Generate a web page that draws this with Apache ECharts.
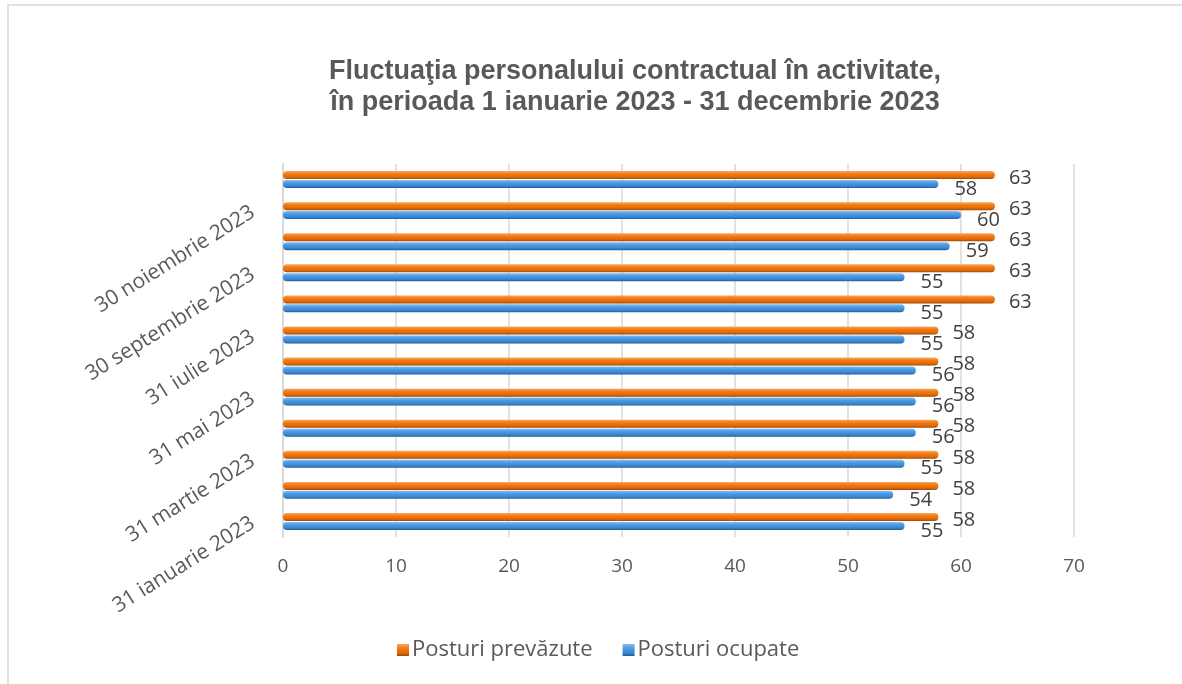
<!DOCTYPE html>
<html>
<head>
<meta charset="utf-8">
<script src="https://cdn.jsdelivr.net/npm/echarts@6/dist/echarts.min.js"></script>
<style>
html,body{margin:0;padding:0;background:#fff;}
#main{width:1182px;height:684px;}
</style>
</head>
<body>
<div id="main"></div>
<script>
const categories = [
  '31 ianuarie 2023','28 februarie 2023','31 martie 2023','30 aprilie 2023',
  '31 mai 2023','30 iunie 2023','31 iulie 2023','31 august 2023',
  '30 septembrie 2023','31 octombrie 2023','30 noiembrie 2023','31 decembrie 2023'
];
const posturiPrevazute = [58,58,58,58,58,58,58,63,63,63,63,63];
const posturiOcupate   = [55,54,55,56,56,56,55,55,55,59,60,58];
const xTicks = [0,10,20,30,40,50,60,70];

const chart = echarts.init(document.getElementById('main'));
const orangeGrad = new echarts.graphic.LinearGradient(0,0,0,1,[
  {offset:0,color:'#F7A863'},{offset:0.35,color:'#F47B12'},{offset:0.75,color:'#E06A0A'},{offset:1,color:'#9E4805'}]);
const blueGrad = new echarts.graphic.LinearGradient(0,0,0,1,[
  {offset:0,color:'#86BEF0'},{offset:0.35,color:'#4A9BE6'},{offset:0.75,color:'#3A86D0'},{offset:1,color:'#225A94'}]);
const sans = 'Open Sans';

chart.setOption({
  animation:false,
  backgroundColor:'#fff',
  graphic:[{type:'rect',shape:{x:8,y:5,width:1200,height:700},style:{fill:'none',stroke:'#D9D9D9',lineWidth:1.5},silent:true}],
  title:{
    text:'Fluctuaţia personalului contractual în activitate,\nîn perioada 1 ianuarie 2023 - 31 decembrie 2023',
    left:630, top:51, textAlign:'center',
    textStyle:{fontFamily:'Liberation Sans',fontWeight:'bold',fontSize:27,color:'#595959',lineHeight:31}
  },
  legend:{
    data:['Posturi prevăzute','Posturi ocupate'],
    bottom:18, left:392, itemWidth:12, itemHeight:12, itemGap:30, itemStyle:{borderWidth:0},
    icon:'rect',
    textStyle:{fontFamily:sans,fontSize:22,color:'#595959',padding:[0,0,0,-2]}
  },
  grid:{left:283,right:108,top:164,bottom:147,containLabel:false},
  xAxis:{
    type:'value',min:0,max:70,interval:10,
    axisLine:{show:false},axisTick:{show:false},
    splitLine:{lineStyle:{color:'#D9D9D9',width:1.5}},
    axisLabel:{margin:20,fontFamily:sans,fontSize:19,color:'#595959',
      formatter:v=>xTicks.includes(v)?String(v):''}
  },
  yAxis:{
    type:'category',data:categories,
    axisLine:{show:true,lineStyle:{color:'#D9D9D9',width:2}},
    axisTick:{show:false},
    axisLabel:{interval:1,rotate:32,margin:30,fontFamily:sans,fontSize:21,color:'#595959'}
  },
  series:[
    {name:'Posturi prevăzute',type:'bar',data:posturiPrevazute,barWidth:8,barGap:'12%',
      itemStyle:{color:orangeGrad,borderRadius:4},
      label:{show:true,position:'right',distance:14,offset:[0,3],fontFamily:sans,fontSize:20,color:'#404040'}},
    {name:'Posturi ocupate',type:'bar',data:posturiOcupate,barWidth:8,
      itemStyle:{color:blueGrad,borderRadius:4},
      label:{show:true,position:'right',distance:16,offset:[0,5],fontFamily:sans,fontSize:20,color:'#404040'}}
  ]
});
</script>
</body>
</html>
